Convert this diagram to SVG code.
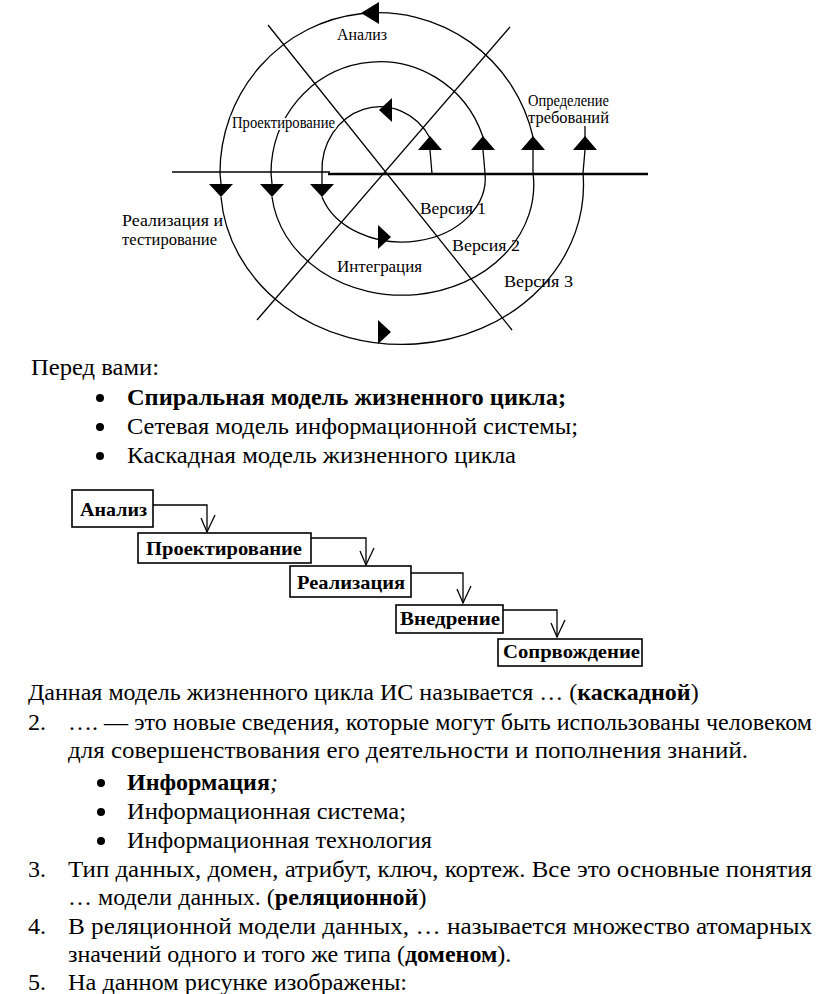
<svg xmlns="http://www.w3.org/2000/svg" xmlns:xlink="http://www.w3.org/1999/xlink" width="816" height="994" viewBox="0 0 816 994">
<style>
.ln{fill:none;stroke:#000;stroke-width:1.3}
.thick{fill:none;stroke:#000;stroke-width:2.6}
.ah{fill:#000;stroke:none}
.lbl{font-family:"Liberation Serif","Times New Roman","DejaVu Serif",serif;font-size:16px;fill:#000}
.halo{stroke:#fff;stroke-width:4;paint-order:stroke;stroke-linejoin:round}
.box{fill:#fff;stroke:#000;stroke-width:1.6}
.bt{font-family:"Liberation Serif","Times New Roman","DejaVu Serif",serif;font-size:19px;font-weight:bold;fill:#000}
.wf{fill:none;stroke:#000;stroke-width:1.3}
.tx{font-family:"Liberation Serif","Times New Roman","DejaVu Serif",serif;font-size:24px;fill:#000}
.b{font-weight:bold}
</style>
<defs>
<path id="aUp" d="M -12 0 L 12 0 L 0 -14 Z"/>
<path id="aDn" d="M -12 0 L 12 0 L 0 13 Z"/>
<marker id="vee" markerUnits="userSpaceOnUse" markerWidth="24" markerHeight="24" refX="0" refY="0" orient="auto" overflow="visible">
<path d="M -14 6 L 0 0 L -17 -8" fill="none" stroke="#000" stroke-width="1.3"/>
</marker>
</defs>

<g id="spiral">
<g id="axes">
<line class="ln" x1="172" y1="172" x2="330" y2="172"/>
<line class="thick" x1="328" y1="174" x2="648" y2="174"/>
<line class="ln" x1="268" y1="25" x2="512" y2="330"/>
<line class="ln" x1="510" y1="27" x2="257" y2="320"/>
</g>
<g id="spiral-path">
<path class="ln" d="M 432 174 L 430 150"/>
<path class="ln" d="M 430 138 A 58 63 0 0 0 322 173 L 322 184"/>
<path class="ln" d="M 322 197 A 83.5 64 0 0 0 485 173 L 483 150"/>
<path class="ln" d="M 483 137 A 109 112 0 0 0 271 173 L 272 184"/>
<path class="ln" d="M 272 197 A 131 110 0 0 0 533 173 L 533 150"/>
<path class="ln" d="M 533 137 A 158.5 160 0 0 0 220 173 L 221 184"/>
<path class="ln" d="M 221 197 A 181 159 0 0 0 583 173 L 585 150"/>
<path class="ln" d="M 585 137 L 585 126"/>
</g>
<g id="spiral-arrows">
<use xlink:href="#aUp" class="ah" transform="translate(430 150)"/>
<use xlink:href="#aUp" class="ah" transform="translate(483 150)"/>
<use xlink:href="#aUp" class="ah" transform="translate(533 150)"/>
<use xlink:href="#aUp" class="ah" transform="translate(585 150)"/>
<use xlink:href="#aDn" class="ah" transform="translate(221 184)"/>
<use xlink:href="#aDn" class="ah" transform="translate(272 184)"/>
<use xlink:href="#aDn" class="ah" transform="translate(322 184)"/>
<path class="ah" d="M 361 13 L 379 2 L 379 24 Z"/>
<path class="ah" d="M 379 110 L 392 98 L 392 122 Z"/>
<path class="ah" d="M 391 237 L 378 225 L 378 249 Z"/>
<path class="ah" d="M 391 332 L 378 320 L 378 344 Z"/>
</g>
<g id="spiral-labels">
<text class="lbl" x="337" y="40" textLength="50" lengthAdjust="spacingAndGlyphs">Анализ</text>
<text class="lbl halo" x="232" y="128" textLength="103" lengthAdjust="spacingAndGlyphs">Проектирование</text>
<text class="lbl" x="528" y="106" textLength="81" lengthAdjust="spacingAndGlyphs">Определение</text>
<text class="lbl" x="528" y="123" textLength="81" lengthAdjust="spacingAndGlyphs">требований</text>
<text class="lbl" x="122" y="226" textLength="101" lengthAdjust="spacingAndGlyphs">Реализация и</text>
<text class="lbl" x="122" y="245" textLength="95" lengthAdjust="spacingAndGlyphs">тестирование</text>
<text class="lbl halo" x="337" y="272" textLength="85" lengthAdjust="spacingAndGlyphs">Интеграция</text>
<text class="lbl" x="420" y="214" textLength="66" lengthAdjust="spacingAndGlyphs">Версия 1</text>
<text class="lbl" x="452" y="251" textLength="68" lengthAdjust="spacingAndGlyphs">Версия 2</text>
<text class="lbl" x="504" y="287" textLength="69" lengthAdjust="spacingAndGlyphs">Версия 3</text>
</g>
</g>

<g id="text-top">
<text class="tx" x="31" y="375" textLength="128" lengthAdjust="spacingAndGlyphs">Перед вами:</text>
<circle cx="100" cy="398" r="4"/>
<text class="tx b" x="127" y="405" textLength="439" lengthAdjust="spacingAndGlyphs">Спиральная модель жизненного цикла;</text>
<circle cx="100" cy="427" r="4"/>
<text class="tx" x="127" y="434" textLength="451" lengthAdjust="spacingAndGlyphs">Сетевая модель информационной системы;</text>
<circle cx="100" cy="456" r="4"/>
<text class="tx" x="127" y="463" textLength="389" lengthAdjust="spacingAndGlyphs">Каскадная модель жизненного цикла</text>
</g>

<g id="waterfall-connectors">
<path class="wf" d="M 153 505 H 207 V 532" marker-end="url(#vee)"/>
<path class="wf" d="M 311 538 H 366 V 565" marker-end="url(#vee)"/>
<path class="wf" d="M 411 573 H 463 V 603" marker-end="url(#vee)"/>
<path class="wf" d="M 503 610 H 557 V 637" marker-end="url(#vee)"/>
</g>
<g id="n-analiz">
<rect class="box" x="72" y="490" width="81" height="37"/>
<text class="bt" x="80" y="516" textLength="67" lengthAdjust="spacingAndGlyphs">Анализ</text>
</g>
<g id="n-proekt">
<rect class="box" x="138" y="533" width="173" height="30"/>
<text class="bt" x="146" y="555" textLength="156" lengthAdjust="spacingAndGlyphs">Проектирование</text>
</g>
<g id="n-realiz">
<rect class="box" x="290" y="566" width="121" height="31"/>
<text class="bt" x="297" y="589" textLength="108" lengthAdjust="spacingAndGlyphs">Реализация</text>
</g>
<g id="n-vnedr">
<rect class="box" x="396" y="605" width="107" height="28"/>
<text class="bt" x="400" y="625" textLength="100" lengthAdjust="spacingAndGlyphs">Внедрение</text>
</g>
<g id="n-soprov">
<rect class="box" x="498" y="639" width="144" height="27"/>
<text class="bt" x="503" y="658" textLength="137" lengthAdjust="spacingAndGlyphs">Сопрвождение</text>
</g>

<g id="text-bottom">
<text class="tx" x="28" y="700">Данная модель жизненного цикла ИС называется … (<tspan class="b">каскадной</tspan>)</text>
<text class="tx" x="28" y="730">2.</text>
<text class="tx" x="68" y="730" textLength="744" lengthAdjust="spacingAndGlyphs">…. — это новые сведения, которые могут быть использованы человеком</text>
<text class="tx" x="68" y="758" textLength="680" lengthAdjust="spacingAndGlyphs">для совершенствования его деятельности и пополнения знаний.</text>
<circle cx="101" cy="783" r="4"/>
<text class="tx" x="127" y="790"><tspan class="b">Информация</tspan><tspan font-style="italic">;</tspan></text>
<circle cx="101" cy="812" r="4"/>
<text class="tx" x="127" y="819" textLength="279" lengthAdjust="spacingAndGlyphs">Информационная система;</text>
<circle cx="101" cy="841" r="4"/>
<text class="tx" x="127" y="848" textLength="305" lengthAdjust="spacingAndGlyphs">Информационная технология</text>
<text class="tx" x="28" y="877">3.</text>
<text class="tx" x="68" y="877" textLength="744" lengthAdjust="spacingAndGlyphs">Тип данных, домен, атрибут, ключ, кортеж. Все это основные понятия</text>
<text class="tx" x="68" y="905">… модели данных. (<tspan class="b">реляционной</tspan>)</text>
<text class="tx" x="28" y="934">4.</text>
<text class="tx" x="68" y="934" textLength="744" lengthAdjust="spacingAndGlyphs">В реляционной модели данных, … называется множество атомарных</text>
<text class="tx" x="68" y="962">значений одного и того же типа (<tspan class="b">доменом</tspan>).</text>
<text class="tx" x="28" y="990">5.</text>
<text class="tx" x="68" y="990" textLength="339" lengthAdjust="spacingAndGlyphs">На данном рисунке изображены:</text>
</g>
</svg>
